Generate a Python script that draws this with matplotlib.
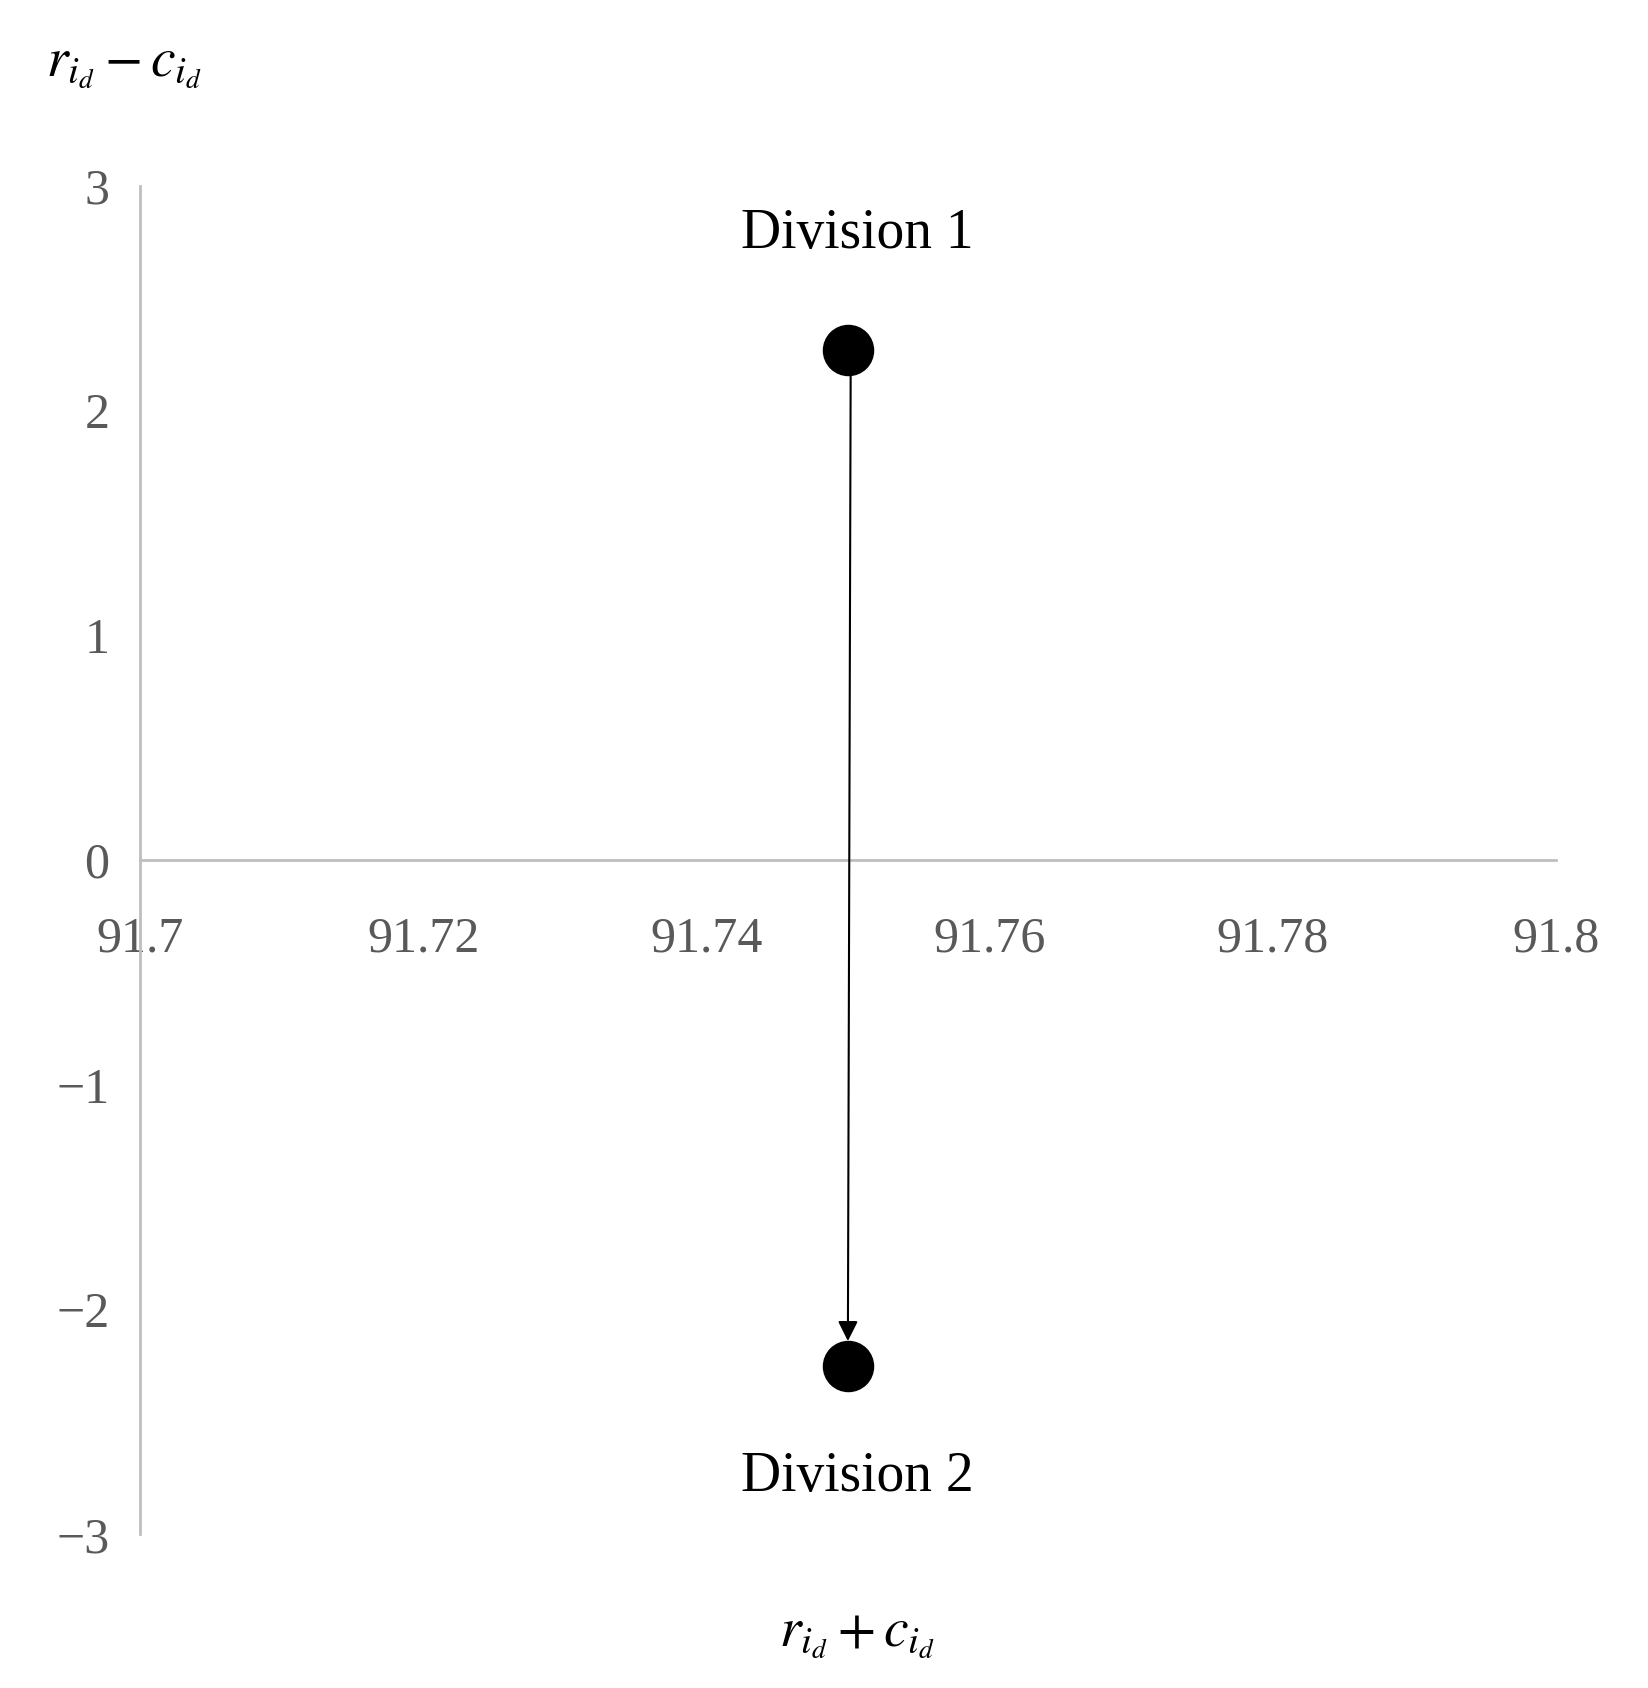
import matplotlib.pyplot as plt

# data
names = ["Division 1", "Division 2"]
xs = [91.7500, 91.7500]
ys = [2.27, -2.25]
xticks = [91.7, 91.72, 91.74, 91.76, 91.78, 91.8]
yticks = [-3, -2, -1, 0, 1, 2, 3]

plt.rcParams['font.family'] = ['Liberation Serif', 'DejaVu Serif']
plt.rcParams['mathtext.fontset'] = 'stix'

fig = plt.figure(figsize=(16.48, 16.88), dpi=100)
ax = fig.add_axes([0.085, 0.091, 0.859, 0.799])

ax.scatter(xs, ys, s=1300, color='black', zorder=3)
ax.annotate("", xy=(xs[1], ys[1] + 0.11), xytext=(xs[0] + 0.0002, ys[0]),
            arrowprops=dict(arrowstyle='-|>', color='black', lw=1.5,
                            mutation_scale=30, shrinkA=0, shrinkB=0))
ax.text(xs[0] + 0.0007, ys[0] + 0.4, names[0], fontsize=40, ha='center', va='bottom')
ax.text(xs[1] + 0.0007, ys[1] - 0.38, names[1], fontsize=40, ha='center', va='top')

ax.set_xlim(91.7, 91.8)
ax.set_ylim(-3, 3)
ax.set_xticks(xticks)
ax.set_xticklabels([str(t) for t in xticks])
ax.set_yticks(yticks)
ax.spines['top'].set_visible(False)
ax.spines['right'].set_visible(False)
ax.spines['bottom'].set_position(('data', 0))
ax.spines['left'].set_color('#bfbfbf')
ax.spines['bottom'].set_color('#bfbfbf')
ax.spines['left'].set_linewidth(2)
ax.spines['bottom'].set_linewidth(2)
ax.tick_params(length=0, labelsize=36, labelcolor='#595959', pad=22)
ax.tick_params(axis='x', pad=40)

fig.text(0.075, 0.955, r"$r_{i_d}-c_{i_d}$", fontsize=40, ha='center')
fig.text(0.52, 0.025, r"$r_{i_d}+c_{i_d}$", fontsize=40, ha='center')

fig.savefig("out.png", dpi=100)
